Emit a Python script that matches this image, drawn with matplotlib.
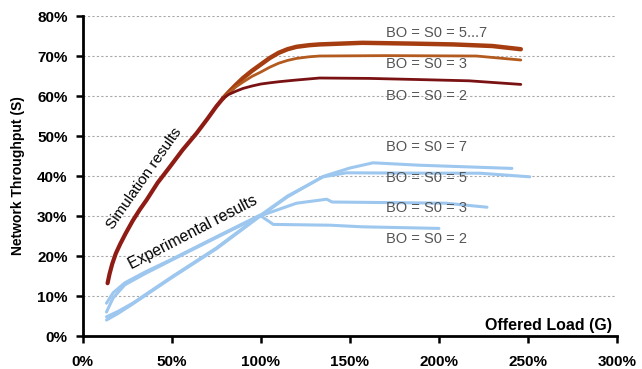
import matplotlib
matplotlib.use("Agg")
import matplotlib.pyplot as plt
import numpy as np

plt.rcParams['font.family'] = ['Liberation Sans', 'DejaVu Sans']

# ---- data (offered load %, throughput %) ----
sim_common_x = [13.9, 15, 16.5, 18.5, 21, 24, 28, 32, 35.8, 42, 48.9, 56, 63.9, 70, 75, 78.7]
sim_common_y = [13.2, 15.5, 18.0, 20.6, 23.0, 25.6, 28.8, 31.6, 34.0, 38.3, 42.3, 46.5, 50.7, 54.3, 57.4, 59.4]

sim_bo57_x = [78.7, 82, 86, 90, 95, 100, 105, 110, 115, 120, 127, 133, 157, 185, 208, 230, 246]
sim_bo57_y = [59.4, 61.0, 62.8, 64.5, 66.3, 67.9, 69.5, 70.8, 71.7, 72.3, 72.7, 72.9, 73.3, 73.1, 72.9, 72.5, 71.7]

sim_bo3_x = [78.7, 82, 86, 90, 95, 100, 105, 110, 115, 120, 127, 133, 170, 221, 246]
sim_bo3_y = [59.4, 60.8, 62.3, 63.5, 64.9, 66.0, 67.2, 68.2, 68.9, 69.4, 69.8, 70.0, 70.1, 70.0, 69.0]

sim_bo2_x = [78.7, 82, 86, 90, 95, 100, 105, 110.7, 120, 133, 161, 190, 217, 246]
sim_bo2_y = [59.4, 60.4, 61.2, 61.9, 62.5, 63.0, 63.3, 63.6, 64.0, 64.5, 64.4, 64.1, 63.8, 62.9]

exp_bo2_x = [13.3, 17, 23.6, 35, 50, 75, 99.4, 107, 139, 157, 200]
exp_bo2_y = [8.2, 10.8, 13.3, 16.0, 19.2, 24.8, 30.2, 27.9, 27.7, 27.3, 26.9]

exp_bo3_x = [13.3, 17, 23.6, 35, 50, 75, 99.4, 120, 137, 140, 204, 227]
exp_bo3_y = [6.0, 9.5, 12.8, 15.6, 19.0, 24.6, 30.0, 33.2, 34.2, 33.5, 33.2, 32.2]

exp_bo5_x = [13.3, 20, 28, 50, 75, 97.6, 115, 135, 148, 195, 223, 251]
exp_bo5_y = [4.8, 6.2, 8.2, 14.8, 22.0, 29.5, 35.0, 39.8, 40.8, 40.7, 40.7, 39.8]

exp_bo7_x = [13.3, 20, 28, 50, 75, 97.6, 115, 135, 150, 163, 189, 241]
exp_bo7_y = [4.0, 5.7, 8.0, 14.6, 21.8, 29.3, 34.8, 39.9, 42.0, 43.3, 42.7, 41.9]

x_ticks = [0, 50, 100, 150, 200, 250, 300]
y_ticks = [0, 10, 20, 30, 40, 50, 60, 70, 80]

sim_labels = ["BO = S0 = 5...7", "BO = S0 = 3", "BO = S0 = 2"]
sim_label_y = [75.7, 68.0, 60.0]
exp_labels = ["BO = S0 = 7", "BO = S0 = 5", "BO = S0 = 3", "BO = S0 = 2"]
exp_label_y = [47.3, 39.6, 31.9, 24.2]
label_x = 170.5

# ---- figure ----
fig = plt.figure(figsize=(6.42, 3.69), dpi=100)
ax = fig.add_axes([0.129, 0.0894, 0.832, 0.8672])

ax.set_xlim(0, 300)
ax.set_ylim(0, 80)

for yv in y_ticks[1:]:
    ax.plot([0, 299], [yv, yv], color='#a8a8a8', lw=0.8, ls=(0, (2, 2)), zorder=1)

blue = '#9dc7ee'
for xs, ys in [(exp_bo2_x, exp_bo2_y), (exp_bo3_x, exp_bo3_y),
               (exp_bo5_x, exp_bo5_y), (exp_bo7_x, exp_bo7_y)]:
    ax.plot(xs, ys, color=blue, lw=2.2, solid_capstyle='round',
            solid_joinstyle='round', zorder=2)

ax.plot(sim_bo57_x, sim_bo57_y, color='#a63d10', lw=3.2, solid_capstyle='round',
        solid_joinstyle='round', zorder=3)
ax.plot(sim_bo3_x, sim_bo3_y, color='#b35a1f', lw=2.0, solid_capstyle='round',
        solid_joinstyle='round', zorder=4)
ax.plot(sim_bo2_x, sim_bo2_y, color='#7a1214', lw=2.0, solid_capstyle='round',
        solid_joinstyle='round', zorder=4)
ax.plot(sim_common_x, sim_common_y, color='#8e1c14', lw=3.0, solid_capstyle='round',
        solid_joinstyle='round', zorder=5)

for t, yv in zip(sim_labels, sim_label_y):
    ax.text(label_x, yv, t, fontsize=10.5, color='#555555', va='center', ha='left')
for t, yv in zip(exp_labels, exp_label_y):
    ax.text(label_x, yv, t, fontsize=10.5, color='#555555', va='center', ha='left')

ax.text(34.3, 39.4, "Simulation results", rotation=55, fontsize=11,
        ha='center', va='center', rotation_mode='anchor')
ax.text(62, 26, "Experimental results", rotation=27.5, fontsize=11.3,
        ha='center', va='center', rotation_mode='anchor')

ax.text(297, 2.75, "Offered Load (G)", fontsize=11.5, fontweight='bold',
        ha='right', va='center')

ax.set_ylabel("Network Throughput (S)", fontsize=10, fontweight='bold', labelpad=9)

ax.set_xticks(x_ticks)
ax.set_xticklabels([f"{v}%" for v in x_ticks], fontweight='bold', fontsize=11)
ax.set_yticks(y_ticks)
ax.set_yticklabels([f"{v}%" for v in y_ticks], fontweight='bold', fontsize=11)
ax.tick_params(axis='both', direction='out', length=5, width=1.8, pad=6)
ax.tick_params(axis='x', pad=9)

for s in ['top', 'right']:
    ax.spines[s].set_visible(False)
for s in ['left', 'bottom']:
    ax.spines[s].set_linewidth(2)

fig.savefig("out.png", dpi=100)
